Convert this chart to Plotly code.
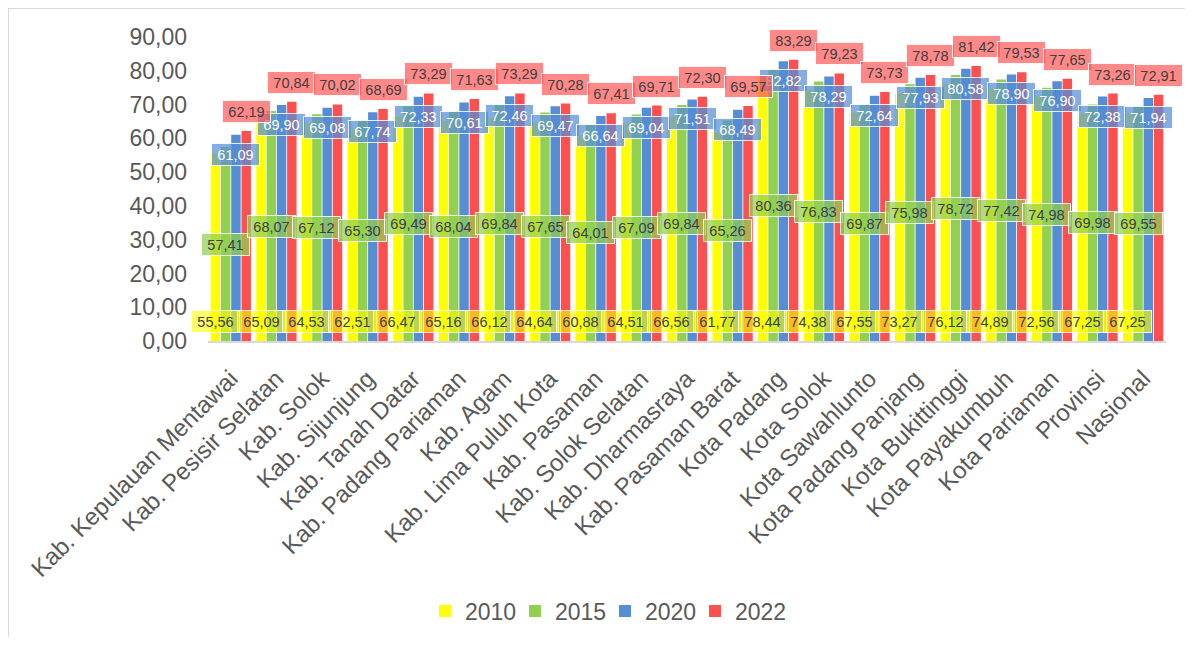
import plotly.graph_objects as go

categories = [
    "Kab. Kepulauan Mentawai", "Kab. Pesisir Selatan", "Kab. Solok", "Kab. Sijunjung",
    "Kab. Tanah Datar", "Kab. Padang Pariaman", "Kab. Agam", "Kab. Lima Puluh Kota",
    "Kab. Pasaman", "Kab. Solok Selatan", "Kab. Dharmasraya", "Kab. Pasaman Barat",
    "Kota Padang", "Kota Solok", "Kota Sawahlunto", "Kota Padang Panjang",
    "Kota Bukittinggi", "Kota Payakumbuh", "Kota Pariaman", "Provinsi", "Nasional",
]
v2010 = [55.56, 65.09, 64.53, 62.51, 66.47, 65.16, 66.12, 64.64, 60.88, 64.51, 66.56,
         61.77, 78.44, 74.38, 67.55, 73.27, 76.12, 74.89, 72.56, 67.25, 67.25]
v2015 = [57.41, 68.07, 67.12, 65.30, 69.49, 68.04, 69.84, 67.65, 64.01, 67.09, 69.84,
         65.26, 80.36, 76.83, 69.87, 75.98, 78.72, 77.42, 74.98, 69.98, 69.55]
v2020 = [61.09, 69.90, 69.08, 67.74, 72.33, 70.61, 72.46, 69.47, 66.64, 69.04, 71.51,
         68.49, 82.82, 78.29, 72.64, 77.93, 80.58, 78.90, 76.90, 72.38, 71.94]
v2022 = [62.19, 70.84, 70.02, 68.69, 73.29, 71.63, 73.29, 70.28, 67.41, 69.71, 72.30,
         69.57, 83.29, 79.23, 73.73, 78.78, 81.42, 79.53, 77.65, 73.26, 72.91]
series_names = ["2010", "2015", "2020", "2022"]

colors = ["#FFFF00", "#92D050", "#558ED5", "#FF5050"]
box_fill = ["rgba(255,255,0,0.6)", "rgba(146,208,80,0.72)",
            "rgba(85,142,213,0.72)", "rgba(255,80,80,0.68)"]
text_col = ["#404040", "#404040", "#FFFFFF", "#404040"]

# page has an 8px body margin; figure sized to fit the 1193x645 window exactly
OFF = 8
W, H = 1193 - 2 * OFF, 645 - 2 * OFF
# target plot area in window pixels
PL, PR, PT, PB = 208, 1166, 37, 341
ML, MR, MT = PL - OFF, (OFF + W) - PR, PT - OFF
MB = (OFF + H) - PB
PW = W - ML - MR
PH = H - MT - MB
BARGAP = 0.1

fig = go.Figure()
all_vals = [v2010, v2015, v2020, v2022]
for name, vals, c in zip(series_names, all_vals, colors):
    fig.add_trace(go.Bar(x=categories, y=vals, name=name, marker=dict(color=c, line=dict(width=0))))

cw = PW / len(categories)
slot = cw * (1 - BARGAP) / 4
annotations = []
for k, vals in enumerate(all_vals):
    xs = (k - 1.5) * slot
    for cat, v in zip(categories, vals):
        txt = f"{v:.2f}".replace(".", ",")
        if k == 0:
            y, ya, ys = 0, "bottom", 8
        elif k == 1:
            y, ya, ys = v / 2, "middle", 0
        elif k == 2:
            y, ya, ys = v, "top", -8
        else:
            y, ya, ys = v, "bottom", 8
        annotations.append(dict(
            x=cat, y=y, xref="x", yref="y", text=txt, showarrow=False,
            xshift=xs, yshift=ys, yanchor=ya, xanchor="center",
            font=dict(family="Liberation Sans, Arial", size=14.5, color=text_col[k]),
            bgcolor=box_fill[k], bordercolor="rgba(255,255,255,0.85)", borderwidth=1,
            borderpad=3, width=41, height=15,
        ))

def wx(px):
    """window x pixel -> paper x"""
    return (px - OFF - ML) / PW

def wy(py):
    """window y pixel -> paper y"""
    return (OFF + H - MB - py) / PH

shapes = [
    dict(type="line", xref="paper", yref="paper",
         x0=wx(8), x1=wx(8), y0=wy(8), y1=wy(700),
         line=dict(color="#D9D9D9", width=2)),
    dict(type="line", xref="paper", yref="paper",
         x0=wx(8), x1=wx(1250), y0=wy(8), y1=wy(8),
         line=dict(color="#D9D9D9", width=2)),
]

fig.update_layout(
    width=W, height=H,
    margin=dict(l=ML, r=MR, t=MT, b=MB, autoexpand=False),
    paper_bgcolor="white", plot_bgcolor="white",
    barmode="group", bargap=BARGAP, bargroupgap=0.08,
    separators=",.",
    font=dict(family="Liberation Sans, Arial", color="#595959"),
    showlegend=True,
    legend=dict(orientation="h", x=wx(605), xanchor="center",
                y=wy(611), yanchor="middle",
                font=dict(size=23, color="#595959"), itemwidth=30,
                entrywidth=45, entrywidthmode="pixels",
                traceorder="normal"),
    annotations=annotations,
    shapes=shapes,
)
fig.update_xaxes(type="category", range=[-0.5, len(categories) - 0.5], autorange=False,
                 tickangle=-45, showline=True, linecolor="#D9D9D9",
                 linewidth=2, showgrid=False, ticks="", automargin=False,
                 ticklabelstandoff=12,
                 tickfont=dict(size=24, color="#595959"))
fig.update_yaxes(range=[0, 90], autorange=False, dtick=10, tickformat=".2f", showgrid=False,
                 showline=False, zeroline=False, ticks="", ticklabelstandoff=20,
                 automargin=False, tickfont=dict(size=23, color="#595959"))

fig.write_html("out.html")
